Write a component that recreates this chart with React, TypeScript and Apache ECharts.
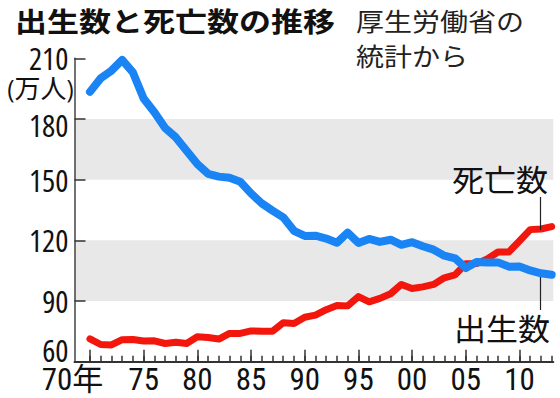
import React, { useEffect, useRef } from 'react';
import * as echarts from 'echarts';

const years = [1970, 1971, 1972, 1973, 1974, 1975, 1976, 1977, 1978, 1979, 1980, 1981, 1982, 1983, 1984, 1985, 1986, 1987, 1988, 1989, 1990, 1991, 1992, 1993, 1994, 1995, 1996, 1997, 1998, 1999, 2000, 2001, 2002, 2003, 2004, 2005, 2006, 2007, 2008, 2009, 2010, 2011, 2012, 2013];
const births = [193.4, 200.1, 203.9, 209.2, 203.0, 190.1, 183.3, 175.5, 170.9, 164.3, 157.7, 152.9, 151.5, 150.9, 149.0, 143.2, 138.3, 134.7, 131.4, 124.7, 122.2, 122.3, 120.9, 118.8, 123.8, 118.7, 120.7, 119.2, 120.3, 117.8, 119.1, 117.1, 115.4, 112.4, 111.1, 106.3, 109.3, 109.0, 109.1, 107.0, 107.1, 105.1, 103.7, 103.0];
const deaths = [71.3, 68.5, 68.3, 70.9, 71.0, 70.2, 70.3, 69.0, 69.6, 69.0, 72.3, 72.0, 71.2, 74.0, 74.0, 75.2, 75.1, 75.1, 79.3, 78.9, 82.0, 83.0, 85.7, 87.8, 87.6, 92.2, 89.6, 91.3, 93.6, 98.2, 96.2, 97.0, 98.2, 101.5, 102.9, 108.4, 108.5, 110.8, 114.2, 114.2, 119.7, 125.3, 125.6, 126.8];
const labelYears = [1970, 1975, 1980, 1985, 1990, 1995, 2000, 2005, 2010];
const labelTexts = ['70年', '75', '80', '85', '90', '95', '00', '05', '10'];
const title = '出生数と死亡数の推移';
const sourceLines = ['厚生労働省の', '統計から'];
const unitText = '(万人)';
const deathName = '死亡数';
const birthName = '出生数';

const FONT_Y = "'Open Sans', 'Noto Sans CJK JP', sans-serif;font-stretch:condensed";
const FONT_X = "Roboto, 'Noto Sans CJK JP', sans-serif;font-stretch:condensed";
const CJK = "'Noto Sans CJK JP', sans-serif";

export default function App() {
  const ref = useRef<HTMLDivElement>(null);
  useEffect(() => {
    if (!ref.current) return;
    const chart = echarts.init(ref.current, null, { renderer: 'svg' });
    const birthData = years.map((y, i) => [y, births[i]]);
    const deathData = years.map((y, i) => [y, deaths[i]]);
    const xMin = 1968.56;
    const xMax = 2013.15;
    const labelFor = (v: number) => {
      const i = labelYears.indexOf(Math.round(v));
      return i < 0 ? '' : labelTexts[i];
    };
    const xLabelBase = {
      show: true,
      margin: 3,
      color: '#111',
      fontFamily: FONT_X,
      fontSize: 31,
      lineHeight: 30,
      formatter: labelFor,
    };
    chart.setOption({
      animation: false,
      backgroundColor: '#ffffff',
      grid: { left: 74.5, right: 6.7, top: 58.3, bottom: 36.3, containLabel: false },
      xAxis: [
        {
          type: 'value',
          min: xMin,
          max: xMax,
          position: 'bottom',
          axisLine: { show: true, lineStyle: { color: '#333', width: 2 } },
          axisTick: {
            show: true,
            inside: true,
            length: 6,
            customValues: years,
            lineStyle: { color: '#333', width: 1.5 },
          },
          axisLabel: { ...xLabelBase, customValues: labelYears.slice(1) },
          splitLine: { show: false },
        },
        {
          type: 'value',
          min: xMin,
          max: xMax,
          position: 'bottom',
          axisLine: { show: false },
          axisTick: {
            show: true,
            inside: true,
            length: 12,
            customValues: labelYears,
            lineStyle: { color: '#333', width: 1.5 },
          },
          axisLabel: { show: false },
          splitLine: { show: false },
        },
        {
          type: 'value',
          min: xMin,
          max: xMax,
          position: 'bottom',
          axisLine: { show: false },
          axisTick: { show: false },
          axisLabel: { ...xLabelBase, customValues: labelYears.slice(0, 1), padding: [0, 35, 0, 0] },
          splitLine: { show: false },
        },
      ],
      yAxis: {
        type: 'value',
        min: 60,
        max: 210,
        interval: 30,
        axisLine: { show: true, lineStyle: { color: '#444', width: 1.5 } },
        axisTick: { show: true, inside: true, length: 11, lineStyle: { color: '#333', width: 1.5 } },
        splitLine: { show: false },
        splitArea: { show: true, areaStyle: { color: ['rgba(255,255,255,0)', '#e8e8e8'] } },
        axisLabel: {
          margin: 6,
          color: '#111',
          fontFamily: FONT_Y,
          fontSize: 31,
          lineHeight: 12,
          formatter: (v: number) => {
            if (v === 180) return '\n' + v;
            if (v === 60) return v + '\n\n';
            return '' + v;
          },
        },
      },
      series: [
        {
          name: deathName,
          type: 'line',
          data: deathData,
          xAxisIndex: 0,
          showSymbol: false,
          symbol: 'none',
          z: 2,
          lineStyle: { color: '#f2160c', width: 7, cap: 'round', join: 'round' },
        },
        {
          name: birthName,
          type: 'line',
          data: birthData,
          xAxisIndex: 0,
          showSymbol: false,
          symbol: 'none',
          z: 3,
          lineStyle: { color: '#1a84f5', width: 8, cap: 'round', join: 'round' },
        },
      ],
      graphic: [
        {
          type: 'text', x: 15, y: 20.5, scaleY: 0.85, z: 100,
          style: { text: title, fontFamily: CJK, fontWeight: 'bold', fontSize: 32, fill: '#111', textVerticalAlign: 'middle', textAlign: 'left' },
        },
        {
          type: 'text', x: 356, y: 20, scaleY: 0.88, z: 100,
          style: { text: sourceLines[0], fontFamily: CJK, fontSize: 28, fill: '#222', textVerticalAlign: 'middle', textAlign: 'left' },
        },
        {
          type: 'text', x: 356, y: 55, scaleY: 0.88, z: 100,
          style: { text: sourceLines[1], fontFamily: CJK, fontSize: 28, fill: '#222', textVerticalAlign: 'middle', textAlign: 'left' },
        },
        {
          type: 'text', x: 7, y: 88, z: 100,
          style: { text: unitText, fontFamily: FONT_Y, fontSize: 26, lineHeight: 26, fill: '#111', textVerticalAlign: 'middle', textAlign: 'left' },
        },
        {
          type: 'text', x: 452, y: 178.5, scaleY: 0.92, z: 100,
          style: { text: deathName, fontFamily: CJK, fontSize: 32, fill: '#111', textVerticalAlign: 'middle', textAlign: 'left' },
        },
        {
          type: 'text', x: 454, y: 327.5, scaleY: 0.92, z: 100,
          style: { text: birthName, fontFamily: CJK, fontSize: 32, fill: '#111', textVerticalAlign: 'middle', textAlign: 'left' },
        },
        {
          type: 'line', z: 100, shape: { x1: 540.5, y1: 197, x2: 540.5, y2: 230 },
          style: { stroke: '#222', lineWidth: 1.2 },
        },
        {
          type: 'line', z: 100, shape: { x1: 540.5, y1: 277, x2: 540.5, y2: 310 },
          style: { stroke: '#222', lineWidth: 1.2 },
        },
      ],
    });
    return () => chart.dispose();
  }, []);
  return <div ref={ref} style={{ position: 'fixed', left: 0, top: 0, width: 560, height: 398 }} />;
}
